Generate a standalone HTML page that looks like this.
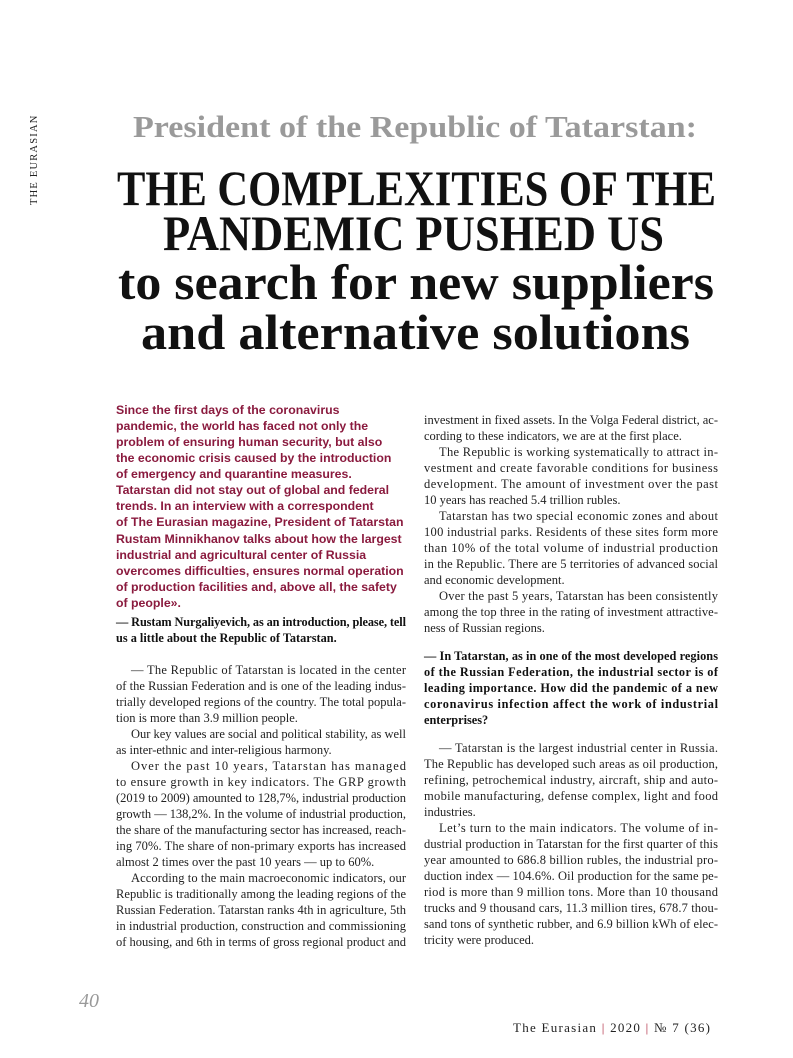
<!DOCTYPE html>
<html><head><meta charset="utf-8"><style>
html,body{margin:0;padding:0;background:#fff;width:793px;height:1058px;overflow:hidden}
svg{display:block}
.b{font-family:"Liberation Serif",serif;font-size:12.5px;fill:#222}
.q{font-family:"Liberation Serif",serif;font-size:12.3px;font-weight:bold;fill:#111}
.l{font-family:"Liberation Sans",sans-serif;font-size:12.3px;font-weight:bold;fill:#8a1a3e}
.h{font-family:"Liberation Serif",serif;font-weight:bold;fill:#111;font-size:50px}
</style></head><body>
<svg width="793" height="1058" viewBox="0 0 793 1058">
<text transform="translate(37,205) rotate(-90)" font-family="Liberation Serif,serif" font-size="10.5" letter-spacing="1.2" fill="#222">THE EURASIAN</text>

<text x="133" y="137" textLength="564" lengthAdjust="spacingAndGlyphs" font-family="Liberation Serif,serif" font-weight="bold" font-size="31" fill="#9a9a9a">President of the Republic of Tatarstan:</text>
<g>
<text class="h" x="117" y="205" textLength="599" lengthAdjust="spacingAndGlyphs">THE COMPLEXITIES OF THE</text>
<text class="h" x="163" y="250" textLength="501" lengthAdjust="spacingAndGlyphs">PANDEMIC PUSHED US</text>
<text class="h" x="118" y="299" textLength="596" lengthAdjust="spacingAndGlyphs">to search for new suppliers</text>
<text class="h" x="141" y="349" textLength="549" lengthAdjust="spacingAndGlyphs">and alternative solutions</text>
</g>

<g>
<text class="l" x="116" y="414">Since the first days of the coronavirus</text>
<text class="l" x="116" y="430">pandemic, the world has faced not only the</text>
<text class="l" x="116" y="446">problem of ensuring human security, but also</text>
<text class="l" x="116" y="462">the economic crisis caused by the introduction</text>
<text class="l" x="116" y="478">of emergency and quarantine measures.</text>
<text class="l" x="116" y="494">Tatarstan did not stay out of global and federal</text>
<text class="l" x="116" y="510">trends. In an interview with a correspondent</text>
<text class="l" x="116" y="526">of The Eurasian magazine, President of Tatarstan</text>
<text class="l" x="116" y="543">Rustam Minnikhanov talks about how the largest</text>
<text class="l" x="116" y="559">industrial and agricultural center of Russia</text>
<text class="l" x="116" y="575">overcomes difficulties, ensures normal operation</text>
<text class="l" x="116" y="591">of production facilities and, above all, the safety</text>
<text class="l" x="116" y="607">of people».</text>
</g>

<g>
<text class="q" x="116" y="626" textLength="290" lengthAdjust="spacing">— Rustam Nurgaliyevich, as an introduction, please, tell</text>
<text class="q" x="116" y="642">us a little about the Republic of Tatarstan.</text>
</g>

<g>
<text class="b" x="131" y="674" textLength="275" lengthAdjust="spacing">— The Republic of Tatarstan is located in the center</text>
<text class="b" x="116" y="690" textLength="290" lengthAdjust="spacing">of the Russian Federation and is one of the leading indus-</text>
<text class="b" x="116" y="706" textLength="290" lengthAdjust="spacing">trially developed regions of the country. The total popula-</text>
<text class="b" x="116" y="722">tion is more than 3.9 million people.</text>
<text class="b" x="131" y="738" textLength="275" lengthAdjust="spacing">Our key values are social and political stability, as well</text>
<text class="b" x="116" y="754">as inter-ethnic and inter-religious harmony.</text>
<text class="b" x="131" y="770" textLength="275" lengthAdjust="spacing">Over the past 10 years, Tatarstan has managed</text>
<text class="b" x="116" y="786" textLength="290" lengthAdjust="spacing">to ensure growth in key indicators. The GRP growth</text>
<text class="b" x="116" y="802" textLength="290" lengthAdjust="spacing">(2019 to 2009) amounted to 128,7%, industrial production</text>
<text class="b" x="116" y="818" textLength="290" lengthAdjust="spacing">growth — 138,2%. In the volume of industrial production,</text>
<text class="b" x="116" y="834" textLength="290" lengthAdjust="spacing">the share of the manufacturing sector has increased, reach-</text>
<text class="b" x="116" y="850" textLength="290" lengthAdjust="spacing">ing 70%. The share of non-primary exports has increased</text>
<text class="b" x="116" y="866">almost 2 times over the past 10 years — up to 60%.</text>
<text class="b" x="131" y="882" textLength="275" lengthAdjust="spacing">According to the main macroeconomic indicators, our</text>
<text class="b" x="116" y="898" textLength="290" lengthAdjust="spacing">Republic is traditionally among the leading regions of the</text>
<text class="b" x="116" y="914" textLength="290" lengthAdjust="spacing">Russian Federation. Tatarstan ranks 4th in agriculture, 5th</text>
<text class="b" x="116" y="930" textLength="290" lengthAdjust="spacing">in industrial production, construction and commissioning</text>
<text class="b" x="116" y="946" textLength="290" lengthAdjust="spacing">of housing, and 6th in terms of gross regional product and</text>
</g>

<g>
<text class="b" x="424" y="424" textLength="294" lengthAdjust="spacing">investment in fixed assets. In the Volga Federal district, ac-</text>
<text class="b" x="424" y="440">cording to these indicators, we are at the first place.</text>
<text class="b" x="439" y="456" textLength="279" lengthAdjust="spacing">The Republic is working systematically to attract in-</text>
<text class="b" x="424" y="472" textLength="294" lengthAdjust="spacing">vestment and create favorable conditions for business</text>
<text class="b" x="424" y="488" textLength="294" lengthAdjust="spacing">development. The amount of investment over the past</text>
<text class="b" x="424" y="504">10 years has reached 5.4 trillion rubles.</text>
<text class="b" x="439" y="520" textLength="279" lengthAdjust="spacing">Tatarstan has two special economic zones and about</text>
<text class="b" x="424" y="536" textLength="294" lengthAdjust="spacing">100 industrial parks. Residents of these sites form more</text>
<text class="b" x="424" y="552" textLength="294" lengthAdjust="spacing">than 10% of the total volume of industrial production</text>
<text class="b" x="424" y="568" textLength="294" lengthAdjust="spacing">in the Republic. There are 5 territories of advanced social</text>
<text class="b" x="424" y="584">and economic development.</text>
<text class="b" x="439" y="600" textLength="279" lengthAdjust="spacing">Over the past 5 years, Tatarstan has been consistently</text>
<text class="b" x="424" y="616" textLength="294" lengthAdjust="spacing">among the top three in the rating of investment attractive-</text>
<text class="b" x="424" y="632">ness of Russian regions.</text>
</g>

<g>
<text class="q" x="424" y="660" textLength="294" lengthAdjust="spacing">— In Tatarstan, as in one of the most developed regions</text>
<text class="q" x="424" y="676" textLength="294" lengthAdjust="spacing">of the Russian Federation, the industrial sector is of</text>
<text class="q" x="424" y="692" textLength="294" lengthAdjust="spacing">leading importance. How did the pandemic of a new</text>
<text class="q" x="424" y="708" textLength="294" lengthAdjust="spacing">coronavirus infection affect the work of industrial</text>
<text class="q" x="424" y="724">enterprises?</text>
</g>

<g>
<text class="b" x="439" y="752" textLength="279" lengthAdjust="spacing">— Tatarstan is the largest industrial center in Russia.</text>
<text class="b" x="424" y="768" textLength="294" lengthAdjust="spacing">The Republic has developed such areas as oil production,</text>
<text class="b" x="424" y="784" textLength="294" lengthAdjust="spacing">refining, petrochemical industry, aircraft, ship and auto-</text>
<text class="b" x="424" y="800" textLength="294" lengthAdjust="spacing">mobile manufacturing, defense complex, light and food</text>
<text class="b" x="424" y="816">industries.</text>
<text class="b" x="439" y="832" textLength="279" lengthAdjust="spacing">Let’s turn to the main indicators. The volume of in-</text>
<text class="b" x="424" y="848" textLength="294" lengthAdjust="spacing">dustrial production in Tatarstan for the first quarter of this</text>
<text class="b" x="424" y="864" textLength="294" lengthAdjust="spacing">year amounted to 686.8 billion rubles, the industrial pro-</text>
<text class="b" x="424" y="880" textLength="294" lengthAdjust="spacing">duction index — 104.6%. Oil production for the same pe-</text>
<text class="b" x="424" y="896" textLength="294" lengthAdjust="spacing">riod is more than 9 million tons. More than 10 thousand</text>
<text class="b" x="424" y="912" textLength="294" lengthAdjust="spacing">trucks and 9 thousand cars, 11.3 million tires, 678.7 thou-</text>
<text class="b" x="424" y="928" textLength="294" lengthAdjust="spacing">sand tons of synthetic rubber, and 6.9 billion kWh of elec-</text>
<text class="b" x="424" y="944">tricity were produced.</text>
</g>

<text x="79" y="1007" font-family="Liberation Serif,serif" font-style="italic" font-size="20" fill="#999">40</text>
<text x="513" y="1032" textLength="197" lengthAdjust="spacing" font-family="Liberation Serif,serif" font-size="13" fill="#222">The Eurasian  <tspan fill="#b0283f">|</tspan>  2020  <tspan fill="#b0283f">|</tspan>  № 7 (36)</text>
</svg>
</body></html>
